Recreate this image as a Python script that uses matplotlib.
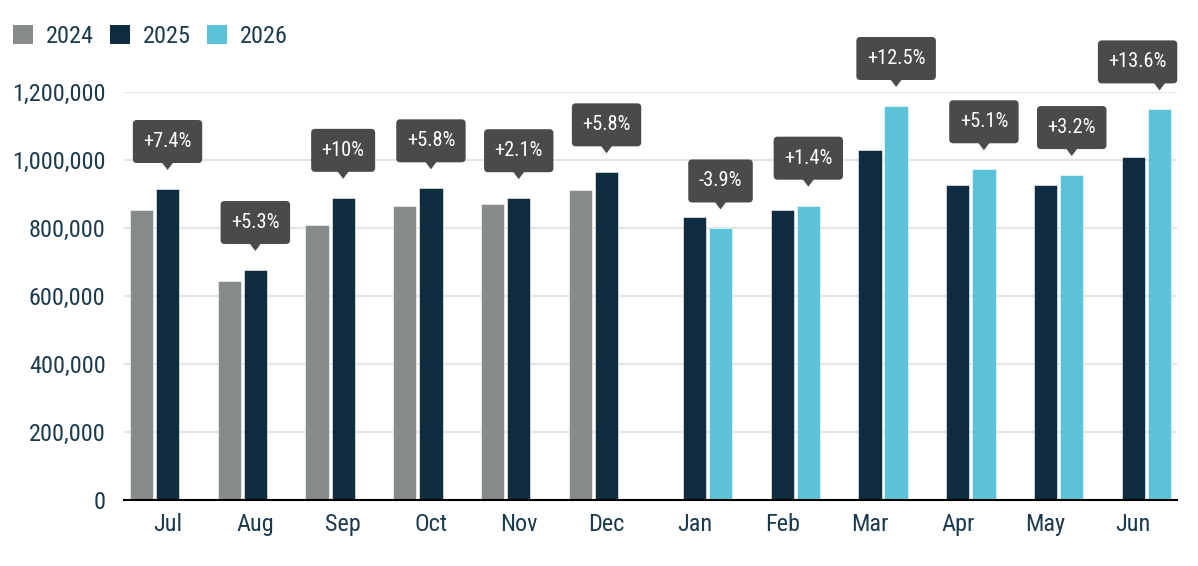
import matplotlib
matplotlib.use("Agg")
import matplotlib.pyplot as plt
from matplotlib.patches import Patch, FancyBboxPatch, Polygon
from matplotlib.transforms import IdentityTransform
from matplotlib.ticker import FuncFormatter
import numpy as np

plt.rcParams['font.family'] = ['Roboto Condensed', 'Roboto', 'DejaVu Sans']

months = ['Jul', 'Aug', 'Sep', 'Oct', 'Nov', 'Dec',
          'Jan', 'Feb', 'Mar', 'Apr', 'May', 'Jun']
years = ['2024', '2025', '2026']
# None = no bar in that slot
v2024 = [852000, 643000, 807000, 865000, 869000, 910000,
         None, None, None, None, None, None]
v2025 = [914000, 676000, 888000, 916000, 887000, 963000,
         831000, 853000, 1029000, 925000, 925000, 1009000]
v2026 = [None, None, None, None, None, None,
         798000, 865000, 1158000, 972000, 955000, 1148000]
changes = ['+7.4%', '+5.3%', '+10%', '+5.8%', '+2.1%', '+5.8%',
           '-3.9%', '+1.4%', '+12.5%', '+5.1%', '+3.2%', '+13.6%']

colors = ['#878b8c', '#0f2b40', '#5bc2d8']
txt = '#1b3a4e'
boxc = '#4a4a4a'

fig = plt.figure(figsize=(11.98, 5.66), dpi=100)
ax = fig.add_axes([0.1032, 0.1166, 0.8795, 0.7214])

x = np.arange(len(months))
step = 0.298
width = 0.265
for i, (vals, c) in enumerate(zip([v2024, v2025, v2026], colors)):
    xs = [xi + (i - 1) * step for xi, v in zip(x, vals) if v is not None]
    hs = [v for v in vals if v is not None]
    ax.bar(xs, hs, width=width, color=c, edgecolor='white', linewidth=0.4, zorder=3)

ax.set_xlim(-0.5, len(months) - 0.5)
ax.set_ylim(0, 1200000)
ax.set_yticks(np.arange(0, 1200001, 200000))
ax.yaxis.set_major_formatter(FuncFormatter(lambda v, p: f'{int(v):,}'))
ax.set_xticks(x)
ax.set_xticklabels(months)
ax.tick_params(axis='both', length=0, labelsize=17.5, labelcolor=txt)
ax.tick_params(axis='y', pad=13)
ax.tick_params(axis='x', pad=9)
ax.grid(axis='y', color='#e4e4e4', linewidth=1.5, zorder=0)
for s in ['top', 'right', 'left']:
    ax.spines[s].set_visible(False)
ax.spines['bottom'].set_color('black')
ax.spines['bottom'].set_linewidth(1.5)
ax.spines['bottom'].set_zorder(4)

# callouts above the newer bar of each month (drawn in pixel space)
pt = 0.72  # points per pixel at dpi 100
labels = []
for i in range(len(months)):
    if v2026[i] is not None:
        xb, top = x[i] + step, v2026[i]
    else:
        xb, top = x[i], v2025[i]
    t = ax.annotate(changes[i], xy=(xb, top), xytext=(0, 47.5 * pt),
                    textcoords='offset points', ha='center', va='center',
                    fontsize=14.7, color='white', zorder=7, annotation_clip=False)
    labels.append((t, xb, top))

fig.canvas.draw()
r = fig.canvas.get_renderer()
right = ax.transAxes.transform((1, 0))[0]
for t, xb, top in labels:
    px, py = ax.transData.transform((xb, top))
    w = t.get_window_extent(r).width + 21
    h = 43
    by = py + 26
    # keep the box inside the plot area
    cx = min(px, right - w / 2)
    t.xyann = ((cx - px) * pt, 47.5 * pt)
    box = FancyBboxPatch((cx - w / 2, by), w, h,
                         boxstyle='round,pad=0,rounding_size=4',
                         fc=boxc, ec='none', transform=IdentityTransform(),
                         clip_on=False, zorder=6)
    tri = Polygon([(px - 6, by + 1), (px + 6, by + 1), (px, by - 7)],
                  closed=True, fc=boxc, ec='none', transform=IdentityTransform(),
                  clip_on=False, zorder=6)
    ax.add_artist(box)
    ax.add_artist(tri)

handles = [Patch(facecolor=c, label=y) for c, y in zip(colors, years)]
fig.legend(handles=handles, loc='center left', bbox_to_anchor=(0.0109, 0.935),
           ncol=3, frameon=False, fontsize=17.5, labelcolor=txt,
           handlelength=0.82, handleheight=0.82, handletextpad=0.53,
           columnspacing=0.66, borderaxespad=0, borderpad=0)

fig.savefig('out.png', dpi=100)
